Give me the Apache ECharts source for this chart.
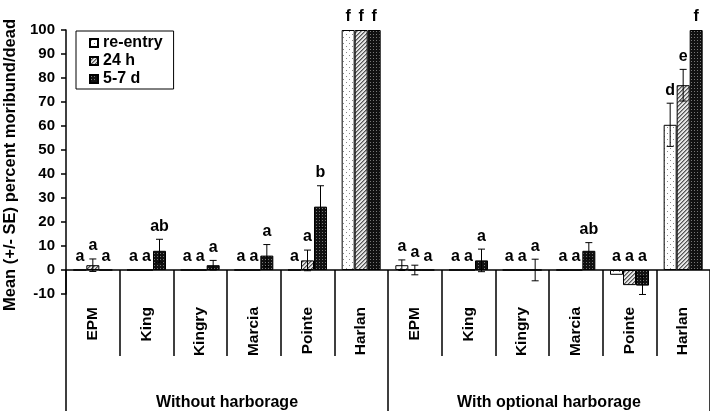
<!DOCTYPE html>
<html>
<head>
<meta charset="utf-8">
<title>Moribund / dead by strain and harborage</title>
<script src="https://cdn.jsdelivr.net/npm/echarts@6/dist/echarts.min.js"></script>
<style>
  html, body { margin: 0; padding: 0; background: #fff; }
  #chart { width: 710px; height: 411px; }
</style>
</head>
<body>
<div id="chart"></div>
<script>
// strains, listed once per harborage treatment
const strains = ['EPM', 'King', 'Kingry', 'Marcia', 'Pointe', 'Harlan',
                 'EPM', 'King', 'Kingry', 'Marcia', 'Pointe', 'Harlan']
const groups = ['Without harborage', 'With optional harborage']
const seriesNames = ['re-entry', '24 h', '5-7 d']

// mean percent moribund/dead and SE
const reentry = [0, 0, 0, 0, 0, 100, 2, 0, 0, 0, -2, 60.5]
const reentrySE = [0, 0, 0, 0, 0, 0, 2.2, 0, 0, 0, 0, 9]
const h24 = [2, 0, 0, 0, 4, 100, 0, 0, 0, 0, -6.3, 77]
const h24SE = [2.6, 0, 0, 0, 4.3, 0, 2, 0, 0, 0, 0, 6.6]
const d57 = [0, 8, 2, 6, 26.4, 100, 0, 4, 0, 8, -6.5, 100]
const d57SE = [0, 4.8, 2, 4.6, 8.7, 0, 0, 4.7, 4.5, 3.4, 3.7, 0]

// significance letters
const reentryLetters = ['a', 'a', 'a', 'a', 'a', 'f', 'a', 'a', 'a', 'a', 'a', 'd']
const h24Letters = ['a', 'a', 'a', 'a', 'a', 'f', 'a', 'a', 'a', 'a', 'a', 'e']
const d57Letters = ['a', 'ab', 'a', 'a', 'b', 'f', 'a', 'a', 'a', 'ab', 'a', 'f']

const FONT = "'Liberation Sans', Arial, sans-serif"
const barW = 13

function makePattern(kind) {
  const c = document.createElement('canvas')
  const ctx = c.getContext('2d')
  if (kind === 'dots') {
    c.width = 6; c.height = 6
    ctx.fillStyle = '#fff'; ctx.fillRect(0, 0, 6, 6)
    ctx.fillStyle = '#888'
    ctx.fillRect(1, 1, 1, 1); ctx.fillRect(4, 4, 1, 1)
  } else if (kind === 'hatch') {
    c.width = 4; c.height = 4
    ctx.fillStyle = '#e6e6e6'; ctx.fillRect(0, 0, 4, 4)
    for (let i = 0; i < 4; i++) {
      ctx.fillStyle = '#555'; ctx.fillRect(i, 3 - i, 1, 1)
      ctx.fillStyle = '#999'; ctx.fillRect(i, (4 - i) % 4, 1, 1)
    }
  } else {
    c.width = 3; c.height = 3
    ctx.fillStyle = '#111'; ctx.fillRect(0, 0, 3, 3)
    ctx.fillStyle = '#777'; ctx.fillRect(1, 1, 1, 1)
  }
  return { image: c, repeat: 'repeat' }
}

const patterns = [makePattern('dots'), makePattern('hatch'), makePattern('dark')]
const values = [reentry, h24, d57]
const errors = [reentrySE, h24SE, d57SE]
const letters = [reentryLetters, h24Letters, d57Letters]

function barSeries(k) {
  return {
    name: seriesNames[k],
    type: 'bar',
    barWidth: barW,
    barGap: '0%',
    data: values[k],
    itemStyle: { color: patterns[k], borderColor: '#000', borderWidth: 1 },
    z: 2
  }
}

function errorSeries(k) {
  return {
    type: 'custom',
    silent: true,
    z: 3,
    data: values[k].map((v, i) => [i, v, errors[k][i]]),
    renderItem(params, api) {
      const se = api.value(2)
      if (!se) return
      const i = api.value(0), v = api.value(1)
      const top = api.coord([i, v + se])
      const bot = api.coord([i, v - se])
      const x = top[0] + (k - 1) * barW
      const st = { stroke: '#000', lineWidth: 1 }
      return {
        type: 'group',
        children: [
          { type: 'line', shape: { x1: x, y1: top[1], x2: x, y2: bot[1] }, style: st },
          { type: 'line', shape: { x1: x - 3.5, y1: top[1], x2: x + 3.5, y2: top[1] }, style: st },
          { type: 'line', shape: { x1: x - 3.5, y1: bot[1], x2: x + 3.5, y2: bot[1] }, style: st }
        ]
      }
    }
  }
}

function letterSeries(k) {
  return {
    type: 'custom',
    silent: true,
    z: 4,
    data: values[k].map((v, i) => [i, Math.max(0, v + errors[k][i])]),
    renderItem(params, api) {
      const pt = api.coord([api.value(0), api.value(1)])
      return {
        type: 'text',
        x: pt[0] + (k - 1) * barW,
        y: pt[1] - 13,
        style: {
          text: letters[k][params.dataIndex],
          font: 'bold 16px ' + FONT,
          fill: '#000',
          align: 'center',
          verticalAlign: 'middle'
        }
      }
    }
  }
}

const chart = echarts.init(document.getElementById('chart'))
const axisLine = { color: '#000', width: 1.5 }

chart.setOption({
  animation: false,
  backgroundColor: '#fff',
  textStyle: { fontFamily: FONT },
  grid: { left: 66, right: 0, top: 30, bottom: 117, containLabel: false, outerBoundsMode: 'none' },
  legend: {
    data: seriesNames,
    orient: 'vertical',
    left: 76,
    top: 31,
    padding: [4, 11, 2, 13],
    itemGap: 2,
    itemWidth: 8,
    itemHeight: 8,
    icon: 'rect',
    borderColor: '#000',
    borderWidth: 1,
    borderRadius: 0,
    backgroundColor: '#fff',
    textStyle: { fontSize: 16, fontWeight: 'bold', color: '#000', fontFamily: FONT }
  },
  xAxis: [{
    type: 'category',
    data: strains,
    axisLine: { show: true, onZero: true, lineStyle: axisLine },
    axisTick: { show: true, length: 86, interval: 0, lineStyle: axisLine },
    axisLabel: {
      interval: 0, rotate: 90, margin: 13,
      align: 'right', verticalAlign: 'middle',
      fontSize: 15.5, fontWeight: 'bold', color: '#000', fontFamily: FONT
    },
    splitLine: { show: false }
  }, {
    type: 'category',
    data: groups,
    position: 'bottom',
    axisLine: { show: false, onZero: false },
    axisTick: { show: true, length: 117, interval: 0, lineStyle: axisLine },
    axisLabel: {
      interval: 0, margin: 101,
      fontSize: 16, fontWeight: 'bold', color: '#000', fontFamily: FONT
    },
    splitLine: { show: false }
  }],
  yAxis: {
    type: 'value',
    min: -10,
    max: 100,
    interval: 10,
    name: 'Mean (+/- SE) percent moribund/dead',
    nameLocation: 'middle',
    nameGap: 46,
    nameTextStyle: {
      fontSize: 16.5, fontWeight: 'bold', color: '#000', fontFamily: FONT,
      padding: [0, 6, 0, 0]
    },
    axisLine: { show: true, lineStyle: axisLine },
    axisTick: { show: true, length: 5, lineStyle: axisLine },
    axisLabel: { margin: 11, fontSize: 15, fontWeight: 'bold', color: '#000', fontFamily: FONT },
    splitLine: { show: false }
  },
  series: [
    barSeries(0), barSeries(1), barSeries(2),
    errorSeries(0), errorSeries(1), errorSeries(2),
    letterSeries(0), letterSeries(1), letterSeries(2)
  ]
})
</script>
</body>
</html>
